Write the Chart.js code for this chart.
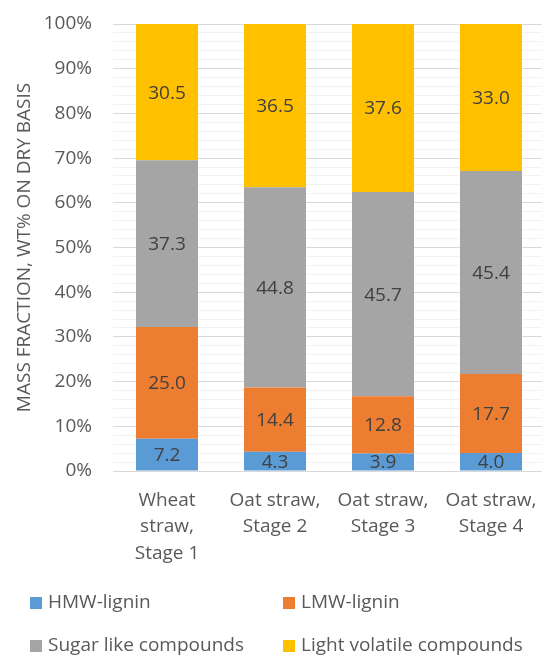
<!DOCTYPE html>
<html>
<head>
<meta charset="utf-8">
<script src="https://cdn.jsdelivr.net/npm/chart.js@4"></script>
<style>
  html, body { margin: 0; padding: 0; background: #fff; overflow: hidden; }
  #wrap { width: 542px; height: 656px; overflow: hidden; }
</style>
</head>
<body>
<div id="wrap"><canvas id="chart" width="546" height="656"></canvas></div>
<script>
const categories = [
  ['Wheat', 'straw,', 'Stage 1'],
  ['Oat straw,', 'Stage 2'],
  ['Oat straw,', 'Stage 3'],
  ['Oat straw,', 'Stage 4']
];
const hmwLignin = [7.2, 4.3, 3.9, 4.0];
const lmwLignin = [25.0, 14.4, 12.8, 17.7];
const sugarLike = [37.3, 44.8, 45.7, 45.4];
const lightVolatile = [30.5, 36.5, 37.6, 33.0];
const seriesNames = ['HMW-lignin', 'LMW-lignin', 'Sugar like compounds', 'Light volatile compounds'];
const seriesColors = ['#5B9BD5', '#ED7D31', '#A5A5A5', '#FFC000'];

const FONT = '"Open Sans", sans-serif';

// value labels in the middle of each segment
const valueLabels = {
  id: 'valueLabels',
  afterDatasetsDraw(chart) {
    const ctx = chart.ctx;
    ctx.save();
    ctx.font = '19px ' + FONT;
    ctx.fillStyle = '#404040';
    ctx.textAlign = 'center';
    ctx.textBaseline = 'middle';
    chart.data.datasets.forEach((ds, i) => {
      chart.getDatasetMeta(i).data.forEach((bar, j) => {
        const y = (bar.y + bar.base) / 2;
        ctx.fillText(ds.data[j].toFixed(1), bar.x, y + 1);
      });
    });
    ctx.restore();
  }
};

// two-column legend like the original
const gridLegend = {
  id: 'gridLegend',
  afterDraw(chart) {
    const ctx = chart.ctx;
    const cols = [30, 283];
    const rows = [603, 646];
    ctx.save();
    ctx.font = '19px ' + FONT;
    ctx.textBaseline = 'middle';
    ctx.textAlign = 'left';
    chart.data.datasets.forEach((ds, i) => {
      const x = cols[i % 2];
      const y = rows[Math.floor(i / 2)];
      ctx.fillStyle = ds.backgroundColor;
      ctx.fillRect(x, y - 6, 12, 12);
      ctx.fillStyle = '#595959';
      ctx.fillText(ds.label, x + 18, y);
    });
    ctx.restore();
  }
};

const series = [hmwLignin, lmwLignin, sugarLike, lightVolatile];

new Chart(document.getElementById('chart'), {
  type: 'bar',
  data: {
    labels: categories,
    datasets: series.map((vals, i) => ({
      label: seriesNames[i],
      data: vals,
      backgroundColor: seriesColors[i],
      borderWidth: 0,
      barPercentage: 0.574,
      categoryPercentage: 1
    }))
  },
  options: {
    responsive: false,
    animation: false,
    devicePixelRatio: 1,
    layout: { padding: { top: 24, right: 1, left: 0, bottom: 0 } },
    plugins: {
      legend: { display: false },
      tooltip: { enabled: false }
    },
    scales: {
      x: {
        stacked: true,
        grid: { display: false, drawTicks: false },
        border: { display: false },
        ticks: {
          color: '#595959',
          font: { family: FONT, size: 19, lineHeight: 1.4 },
          padding: 16,
          maxRotation: 0,
          autoSkip: false
        },
        afterFit(scale) {
          scale.height = 185;
          scale.paddingLeft = 0;
          scale.paddingRight = 0;
        }
      },
      y: {
        stacked: true,
        min: 0,
        max: 100,
        grid: {
          drawTicks: false,
          color: (c) => (c.tick && c.tick.value % 10 === 0) ? '#D9D9D9' : '#F2F2F2'
        },
        border: { display: false },
        ticks: {
          stepSize: 2,
          autoSkip: false,
          color: '#595959',
          font: { family: FONT, size: 19 },
          padding: 21,
          callback: (v) => (v % 10 === 0 ? v + '%' : '')
        },
        title: {
          display: true,
          text: 'MASS FRACTION, WT% ON DRY BASIS',
          color: '#595959',
          font: { family: FONT, size: 19 },
          padding: { top: 13, bottom: 0 }
        },
        afterFit(scale) {
          scale.width = 113;
          scale.paddingTop = 0;
          scale.paddingBottom = 0;
        }
      }
    }
  },
  plugins: [valueLabels, gridLegend]
});
</script>
</body>
</html>
